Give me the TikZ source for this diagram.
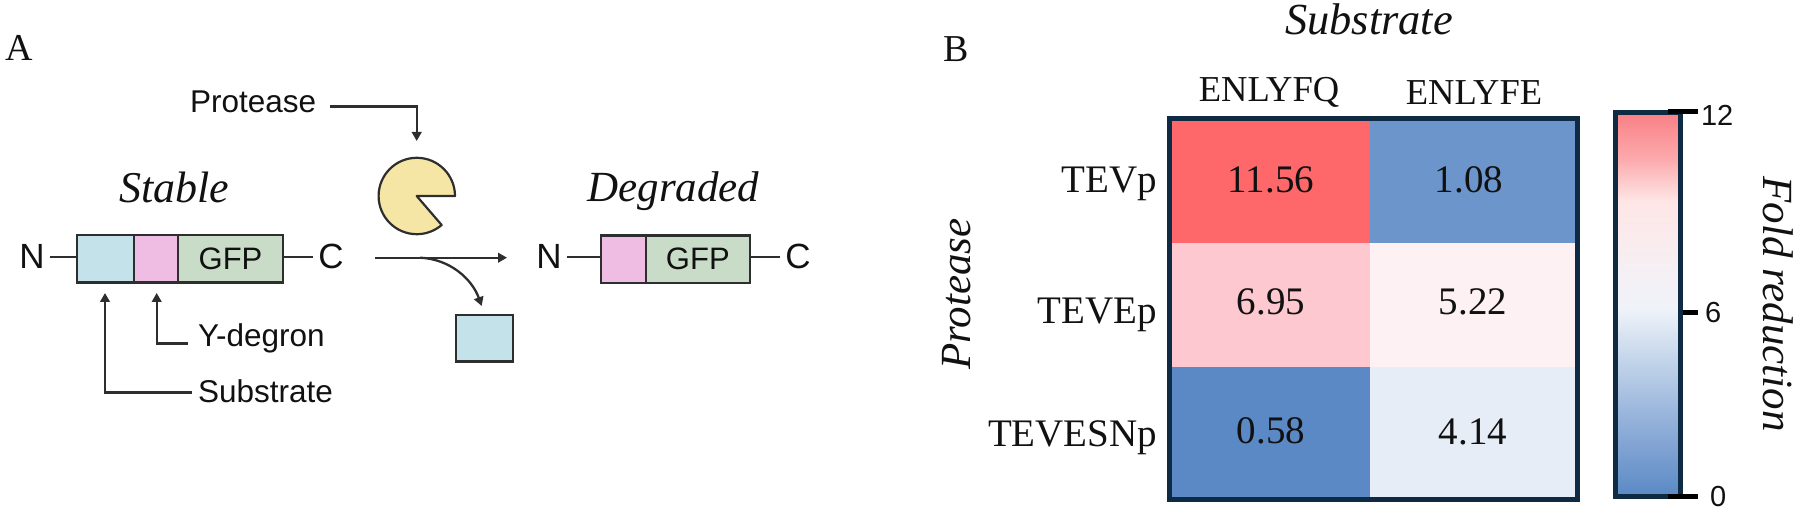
\documentclass[tikz,border=0pt]{standalone}
\usepackage{fontspec}
\setmainfont{Liberation Serif}
\setsansfont{Liberation Sans}
\usetikzlibrary{arrows.meta}
\definecolor{inkc}{HTML}{111111}
\definecolor{linec}{HTML}{2E2E2E}
\definecolor{navyc}{HTML}{0F2A43}
\definecolor{subc}{HTML}{C3E2E9}
\definecolor{degc}{HTML}{EFBDE3}
\definecolor{gfpc}{HTML}{C9DCC7}
\definecolor{pacc}{HTML}{F5E6A6}
\definecolor{cbA}{HTML}{5A89C5}
\definecolor{cbB}{HTML}{8FADD8}
\definecolor{cbC}{HTML}{BBCFE7}
\definecolor{cbD}{HTML}{EFF3F9}
\definecolor{cbE}{HTML}{F6EFF3}
\definecolor{cbF}{HTML}{FEE6E6}
\definecolor{cbG}{HTML}{FBA9AC}
\definecolor{cbH}{HTML}{F98086}
\pgfdeclareverticalshading{cbarshade}{100bp}{
  color(0bp)=(cbA); color(25bp)=(cbA); color(34bp)=(cbB); color(41.5bp)=(cbC);
  color(49.5bp)=(cbD); color(55bp)=(cbE); color(63.5bp)=(cbF); color(69bp)=(cbG);
  color(75bp)=(cbH); color(100bp)=(cbH)}
\tikzset{
  every node/.style={inner sep=0pt,outer sep=0pt,text=inkc},
  sanslbl/.style={font=\sffamily\fontsize{15.75}{18}\selectfont,anchor=base west},
  termlbl/.style={font=\sffamily\fontsize{17.5}{20}\selectfont},
  panellbl/.style={font=\fontsize{19}{22}\selectfont,anchor=base west},
  itallbl/.style={font=\itshape\fontsize{#1}{25}\selectfont,anchor=base},
  itallbl/.default=21.5,
  collbl/.style={font=\fontsize{18.25}{22}\selectfont,anchor=base},
  rowlbl/.style={font=\fontsize{19.5}{22}\selectfont,anchor=base east},
  numlbl/.style={font=\fontsize{19.5}{22}\selectfont,anchor=base},
  ticklbl/.style={font=\sffamily\fontsize{14.5}{16}\selectfont,anchor=west},
  block/.style={draw=linec,line width=1.2pt,minimum height=23.85pt,
    font=\sffamily\fontsize{15.5}{18}\selectfont},
  wire/.style={draw=linec,line width=1.15pt},
  pointer/.style={wire,-{Triangle[length=4.5pt,width=4.8pt]}},
  framec/.style={draw=navyc,line width=2.5pt},
  tickmark/.style={draw=black,line width=2.5pt}
}
\begin{document}
\begin{tikzpicture}[x=0.5pt,y=-0.5pt]
\useasboundingbox (0,0) rectangle (1800,523);
% panel letters
\node[panellbl] (panA) at (5,61) {A};
\node[panellbl] (panB) at (943,61.5) {B};
% stable construct
\node[block,fill=subc,minimum width=28.5pt,anchor=west] (subA) at (76.7,258.8) {};
\node[block,fill=degc,minimum width=22.15pt,anchor=west] (degA) at (subA.east) {};
\node[block,fill=gfpc,minimum width=52.5pt,anchor=west] (gfpA) at (degA.east) {GFP};
\node[termlbl] (nA) at (32,256.7) {N};
\node[termlbl] (cA) at (331,256.7) {C};
\draw[wire] ([xshift=2.5pt]nA.east) -- (nA.east -| subA.west);
\draw[wire] (gfpA.east |- cA.west) -- ([xshift=-2.5pt]cA.west);
\node[itallbl=22] (stable) at (174.5,203) {Stable};
% degraded construct
\node[block,fill=degc,minimum width=22.5pt,anchor=west] (degB) at (600.7,259.3) {};
\node[block,fill=gfpc,minimum width=52.15pt,anchor=west] (gfpB) at (degB.east) {GFP};
\node[termlbl] (nB) at (549,256.7) {N};
\node[termlbl] (cB) at (798,256.7) {C};
\draw[wire] ([xshift=2.5pt]nB.east) -- (nB.east -| degB.west);
\draw[wire] (gfpB.east |- cB.west) -- ([xshift=-2.5pt]cB.west);
\node[itallbl] (degraded) at (673.5,201.5) {Degraded};
% protease
\node[sanslbl] (lblProt) at (190,113) {Protease};
\filldraw[fill=pacc,draw=linec,line width=1.1pt,line join=round]
  (416.7,196) -- (455,196) arc[start angle=0,end angle=310.6,radius=19.1pt] -- cycle;
\coordinate (pacTop) at (416.7,141);
\draw[pointer] ([shift={(14,4.2)}]lblProt.east) -| (pacTop);
% reaction arrows
\coordinate (rxStart) at (375,257.7);
\coordinate (rxEnd) at (507,257.7);
\coordinate (rxBranch) at (420,257.7);
\coordinate (rxCut) at (481.7,306);
\draw[pointer] (rxStart) -- (rxEnd);
\draw[pointer] (rxBranch) .. controls (450,259) and (472,279) .. (rxCut);
\node[draw=linec,line width=1.2pt,fill=subc,minimum width=28.5pt,minimum height=23.3pt] (cutSub) at (484.2,338.3) {};
% part labels
\node[sanslbl] (lblDeg) at (198,346.7) {Y-degron};
\node[sanslbl] (lblSub) at (198,402.7) {Substrate};
\coordinate (degTip) at (156.7,293);
\coordinate (subTip) at (105,293);
\draw[pointer] ([shift={(-10,5)}]lblDeg.west) -| (degTip);
\draw[pointer] ([shift={(-6.5,1)}]lblSub.west) -| (subTip);
% heat map
\node[itallbl=22.2] (hdrSub) at (1369,35) {Substrate};
\node[collbl] (colQ) at (1269,101.7) {ENLYFQ};
\node[collbl] (colE) at (1474,105) {ENLYFE};
\fill[fill={rgb,255:red,255;green,104;blue,107}] (1172,120) rectangle (1370,243.3);
\fill[fill={rgb,255:red,107;green,149;blue,203}] (1370,120) rectangle (1576,243.3);
\fill[fill={rgb,255:red,253;green,200;blue,207}] (1172,243.3) rectangle (1370,366.7);
\fill[fill={rgb,255:red,254;green,241;blue,244}] (1370,243.3) rectangle (1576,366.7);
\fill[fill={rgb,255:red,90;green,137;blue,197}] (1172,366.7) rectangle (1370,497);
\fill[fill={rgb,255:red,230;green,237;blue,247}] (1370,366.7) rectangle (1576,497);
\draw[framec] (1169.2,118.2) rectangle (1577.5,499.2);
\node[numlbl] (v11) at (1271,193) {11.56};
\node[numlbl] (v12) at (1469,193) {1.08};
\node[numlbl] (v21) at (1271,315) {6.95};
\node[numlbl] (v22) at (1473,315) {5.22};
\node[numlbl] (v31) at (1271,444) {0.58};
\node[numlbl] (v32) at (1473,445) {4.14};
\node[rowlbl] (rowA) at (1157,193) {TEVp};
\node[rowlbl] (rowB) at (1157,324) {TEVEp};
\node[rowlbl] (rowC) at (1157,446.7) {TEVESNp};
\node[itallbl,rotate=90] (hdrProt) at (970,294) {Protease};
% colour bar
\shade[shading=cbarshade] (1615.2,112.5) rectangle (1680.5,496.5);
\draw[framec] (1615.2,112.5) rectangle (1680.5,496.5);
\draw[tickmark] (1668,112) -- (1698,112);
\draw[tickmark] (1683,313) -- (1698,313);
\draw[tickmark] (1668,497) -- (1698,497);
\node[ticklbl] (t12) at (1701,115) {12};
\node[ticklbl] (t6) at (1705,313) {6};
\node[ticklbl] (t0) at (1710,497) {0};
\node[itallbl,rotate=-90] (hdrFold) at (1763,304) {Fold reduction};
\end{tikzpicture}
\end{document}
